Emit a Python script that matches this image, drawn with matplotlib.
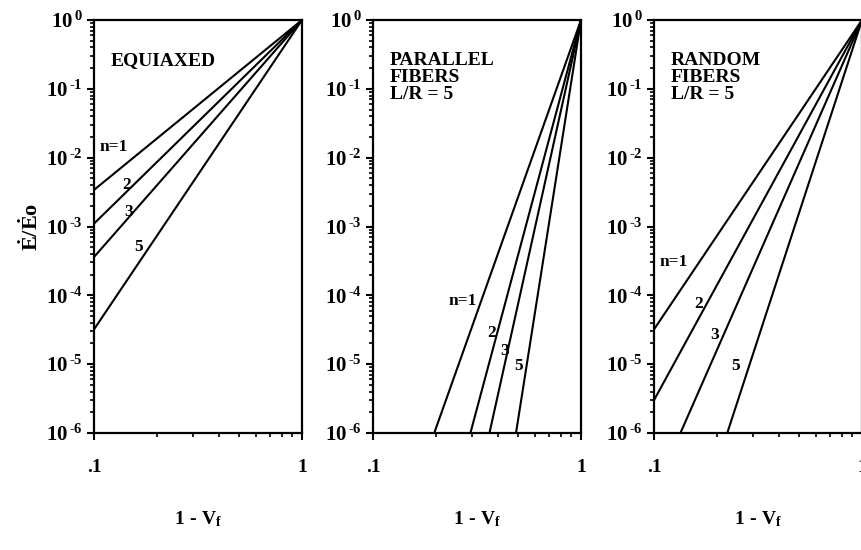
import matplotlib
matplotlib.use("Agg")
from matplotlib import pyplot as plt
from matplotlib import ticker
import numpy as np

plt.rcParams['font.family'] = ['Liberation Serif', 'DejaVu Serif']
plt.rcParams['font.weight'] = 'bold'
plt.rcParams['mathtext.fontset'] = 'custom'
plt.rcParams['mathtext.rm'] = 'Liberation Serif:bold'
plt.rcParams['mathtext.bf'] = 'Liberation Serif:bold'
plt.rcParams['mathtext.it'] = 'Liberation Serif:bold'

# every curve runs from a start point to (1, 1)
n_labels = ["n=1", "2", "3", "5"]

# equiaxed: start at 1 - Vf = 0.1
equi_x0 = [0.1, 0.1, 0.1, 0.1]
equi_y0 = [3.4e-3, 1.1e-3, 3.6e-4, 3.2e-5]

# parallel fibers, L/R = 5: start on the 1e-6 floor
par_x0 = [0.197, 0.294, 0.363, 0.487]
par_y0 = [1e-6, 1e-6, 1e-6, 1e-6]

# random fibers, L/R = 5
rand_x0 = [0.1, 0.1, 0.134, 0.225]
rand_y0 = [3.2e-5, 3.0e-6, 1e-6, 1e-6]

end_x = 1.0
end_y = 1.0

yticks = [1e0, 1e-1, 1e-2, 1e-3, 1e-4, 1e-5, 1e-6]
ytick_labels = [r'$10^{\,0}$', r'$10^{\,\text{-}1}$', r'$10^{\,\text{-}2}$', r'$10^{\,\text{-}3}$',
                r'$10^{\,\text{-}4}$', r'$10^{\,\text{-}5}$', r'$10^{\,\text{-}6}$']
xticks = [0.1, 1.0]
xtick_labels = ['.1', '1']

W, H = 861, 550
fig = plt.figure(figsize=(W / 100.0, H / 100.0), dpi=100)

# (left px, right px, top px, bottom px)
boxes = [(94, 302, 20, 433), (373, 581, 20, 433), (654, 862, 20, 433)]

# label anchors are the right end of each label, in axes fractions
panels = [
    (equi_x0, equi_y0, "EQUIAXED",
     [(0.165, 0.693), (0.177, 0.60), (0.189, 0.535), (0.237, 0.45)]),
    (par_x0, par_y0, "PARALLEL\nFIBERS\nL/R = 5",
     [(0.50, 0.32), (0.59, 0.243), (0.656, 0.199), (0.72, 0.162)]),
    (rand_x0, rand_y0, "RANDOM\nFIBERS\nL/R = 5",
     [(0.165, 0.415), (0.237, 0.313), (0.313, 0.238), (0.415, 0.162)]),
]

for i, (box, panel) in enumerate(zip(boxes, panels)):
    l, r, t, b = box
    ax = fig.add_axes([l / W, 1 - b / H, (r - l) / W, (b - t) / H])
    x0s, y0s, title, lab_pos = panel
    for x0, y0 in zip(x0s, y0s):
        ax.plot([x0, end_x], [y0, end_y], color='black', lw=1.5,
                solid_capstyle='butt')
    ax.set_xscale('log')
    ax.set_yscale('log')
    ax.set_xlim(0.1, 1.0)
    ax.set_ylim(1e-6, 1.0)

    ax.set_xticks(xticks)
    ax.set_xticklabels(xtick_labels)
    ax.xaxis.set_minor_locator(ticker.LogLocator(base=10, subs=np.arange(2, 10)))
    ax.xaxis.set_minor_formatter(ticker.NullFormatter())
    ax.set_yticks(yticks)
    ax.set_yticklabels(ytick_labels)
    ax.yaxis.set_minor_locator(ticker.LogLocator(base=10, subs=np.arange(2, 10), numticks=20))
    ax.yaxis.set_minor_formatter(ticker.NullFormatter())

    ax.tick_params(axis='both', which='major', direction='out', length=5,
                   width=1.5, labelsize=15, pad=3)
    ax.tick_params(axis='both', which='minor', direction='out', length=3,
                   width=1.2)
    ax.tick_params(axis='x', which='major', pad=14, labelsize=14)
    for sp in ax.spines.values():
        sp.set_linewidth(1.6)

    ax.text(0.08, 0.922, title, transform=ax.transAxes, fontsize=14,
            fontweight='bold', va='top', ha='left', linespacing=1.0)
    for lab, (fx, fy) in zip(n_labels, lab_pos):
        ax.text(fx, fy, lab, transform=ax.transAxes, fontsize=12.5,
                fontweight='bold', va='center', ha='right')

    ax.set_xlabel(r'$1\ \text{-}\ V_f$', fontsize=14, labelpad=24)
    if i == 0:
        ax.set_ylabel(r'$\dot{E}/\dot{E}o$', fontsize=16, labelpad=2)

fig.savefig("out.png", dpi=100)
